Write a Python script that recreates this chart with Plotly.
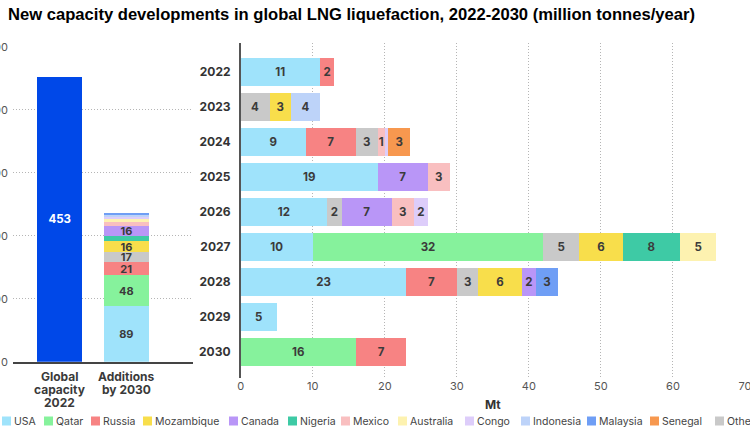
import plotly.graph_objects as go

W, H = 750, 444

# ---------------- data ----------------
years = ["2022", "2023", "2024", "2025", "2026", "2027", "2028", "2029", "2030"]
countries = ["USA", "Qatar", "Russia", "Others", "Mozambique", "Canada", "Nigeria",
             "Mexico", "Australia", "Congo", "Indonesia", "Malaysia", "Senegal"]
colors = {
    "USA": "#9fe3fb", "Qatar": "#86f29c", "Russia": "#f78383", "Mozambique": "#f8de4b",
    "Canada": "#b996f7", "Nigeria": "#3ecaa5", "Mexico": "#f9bfc0", "Australia": "#fdf2b0",
    "Congo": "#ddcdfa", "Indonesia": "#bdd3f9", "Malaysia": "#6f9ef5", "Senegal": "#f7984f",
    "Others": "#c9c9c9",
}
# per-year additions (Mt), years 2022..2030
usa        = [11, 0, 9, 19, 12, 10, 23, 5, 0]
qatar      = [0, 0, 0, 0, 0, 32, 0, 0, 16]
russia     = [2, 0, 7, 0, 0, 0, 7, 0, 7]
others     = [0, 4, 3, 0, 2, 5, 3, 0, 0]
mozambique = [0, 3, 0, 0, 0, 6, 6, 0, 0]
canada     = [0, 0, 0, 7, 7, 0, 2, 0, 0]
nigeria    = [0, 0, 0, 0, 0, 8, 0, 0, 0]
mexico     = [0, 0, 1, 3, 3, 0, 0, 0, 0]
australia  = [0, 0, 0, 0, 0, 5, 0, 0, 0]
congo      = [0, 0, 0.5, 0, 2, 0, 0, 0, 0]
indonesia  = [0, 4, 0, 0, 0, 0, 0, 0, 0]
malaysia   = [0, 0, 0, 0, 0, 0, 3, 0, 0]
senegal    = [0, 0, 3, 0, 0, 0, 0, 0, 0]
series = {
    "USA": usa, "Qatar": qatar, "Russia": russia, "Others": others,
    "Mozambique": mozambique, "Canada": canada, "Nigeria": nigeria, "Mexico": mexico,
    "Australia": australia, "Congo": congo, "Indonesia": indonesia,
    "Malaysia": malaysia, "Senegal": senegal,
}

# left panel
global_capacity_2022 = 453
left_categories = ["Global capacity 2022", "Additions by 2030"]
left_category_lines = [["Global", "capacity", "2022"], ["Additions", "by 2030"]]
additions_order = ["USA", "Qatar", "Russia", "Others", "Mozambique", "Nigeria", "Canada",
                   "Mexico", "Australia", "Congo", "Indonesia", "Malaysia"]
additions_values = [89, 48, 21, 17, 16, 8, 16, 7, 5, 3, 4, 3]
additions_labelled = [True, True, True, True, True, False, True, False, False, False, False, False]

legend_order = ["USA", "Qatar", "Russia", "Mozambique", "Canada", "Nigeria", "Mexico",
                "Australia", "Congo", "Indonesia", "Malaysia", "Senegal", "Others"]

# ---------------- layout helpers ----------------
def px_x(p):
    return p / W

def px_y(p):
    return 1 - p / H

BODY_FONT = "Inter, Roboto, Arial, sans-serif"
LABEL_COLOR = "#3b3b3b"

fig = go.Figure()

# Left: global capacity bar
fig.add_trace(go.Bar(
    x=[left_categories[0]], y=[global_capacity_2022], xaxis="x", yaxis="y",
    marker=dict(color="#0048e8", line=dict(width=0)), width=0.675,
    text=[str(global_capacity_2022)], textposition="inside", insidetextanchor="middle",
    textangle=0,
    textfont=dict(color="white", size=11.5, family=BODY_FONT, weight="bold"),
    showlegend=False, hoverinfo="skip",
))
# Left: additions stacked
for name, val, lab in zip(additions_order, additions_values, additions_labelled):
    fig.add_trace(go.Bar(
        x=[left_categories[1]], y=[val], xaxis="x", yaxis="y",
        marker=dict(color=colors[name], line=dict(width=0)), width=0.675,
        text=[str(val) if lab else ""], textposition="inside", insidetextanchor="middle",
        textangle=0,
        textfont=dict(color=LABEL_COLOR, size=11, family=BODY_FONT, weight="bold"),
        showlegend=False, hoverinfo="skip",
    ))

# Right: horizontal stacked bars by year
for name in countries:
    vals = series[name]
    fig.add_trace(go.Bar(
        y=years, x=vals, orientation="h", xaxis="x2", yaxis="y2",
        marker=dict(color=colors[name], line=dict(width=0)), width=0.8,
        text=[f"{v:g}" if v >= 1 else "" for v in vals],
        textposition="inside", insidetextanchor="middle", textangle=0,
        textfont=dict(color=LABEL_COLOR, size=11.5, family=BODY_FONT, weight="bold"),
        showlegend=False, hoverinfo="skip",
    ))

grid = dict(showgrid=True, gridcolor="#b5b5b5", griddash="1px,2px", gridwidth=1)

fig.update_layout(
    width=W, height=H, margin=dict(l=0, r=0, t=0, b=0, pad=0, autoexpand=False),
    paper_bgcolor="white", plot_bgcolor="white",
    barmode="stack", bargap=0.2,
    uniformtext=dict(minsize=11, mode="show"),
    font=dict(family=BODY_FONT, color="#444"),
    title=dict(
        text="<b>New capacity developments in global LNG liquefaction, 2022-2030 (million tonnes/year)</b>",
        x=px_x(8), xanchor="left", xref="container", y=px_y(14), yref="container", yanchor="middle",
        automargin=False,
        font=dict(family="Liberation Sans, Arial, sans-serif", size=16.6, color="#000"),
    ),
    xaxis=dict(
        domain=[px_x(13), px_x(193)], type="category", range=[-0.7, 2.0],
        categoryorder="array", categoryarray=left_categories,
        showline=True, linecolor="#444", linewidth=1.5, showgrid=False,
        showticklabels=False, ticks="", automargin=False,
    ),
    yaxis=dict(
        domain=[px_y(361.7), px_y(47)], range=[0, 500], tickvals=[0, 100, 200, 300, 400, 500],
        zeroline=False, showline=False, ticks="", automargin=False,
        ticklabelstandoff=4, ticklabeloverflow="allow",
        tickfont=dict(size=11, color="#555", family=BODY_FONT), **grid,
    ),
    xaxis2=dict(
        domain=[px_x(240.7), px_x(745)], anchor="y2", range=[0, 70],
        tickvals=[0, 10, 20, 30, 40, 50, 60, 70], zeroline=False, showline=False, ticks="",
        automargin=False, ticklabeloverflow="allow",
        tickfont=dict(size=11, color="#555", family=BODY_FONT),
        title=dict(text="<b>Mt</b>", font=dict(size=12, color="#333", family=BODY_FONT), standoff=8),
        **grid,
    ),
    yaxis2=dict(
        domain=[px_y(378), px_y(43)], anchor="x2", type="category",
        categoryorder="array", categoryarray=years, range=[8.74, -0.83],
        showline=True, linecolor="#555", linewidth=1.5, showgrid=False, ticks="",
        ticklabelstandoff=6, automargin=False,
        tickfont=dict(size=12, color="#333", family=BODY_FONT, weight="bold"),
    ),
)

# Left category labels (tight line spacing as in the reference)
for cat, lines in zip(left_categories, left_category_lines):
    for i, line in enumerate(lines):
        fig.add_annotation(text=f"<b>{line}</b>", xref="x", yref="paper", x=cat,
                           y=px_y(376 + 13 * i), xanchor="center", yanchor="middle",
                           showarrow=False,
                           font=dict(size=12, color="#3a3a3a", family=BODY_FONT))

# Custom compact legend (squares + labels)
legend_square_px = [2, 44, 91, 143, 229, 288, 341, 398, 465, 521, 587, 650, 715]
legend_y_center = 421
for name, sx in zip(legend_order, legend_square_px):
    fig.add_shape(type="rect", xref="paper", yref="paper",
                  x0=px_x(sx), x1=px_x(sx + 9), y0=px_y(legend_y_center + 4.5), y1=px_y(legend_y_center - 4.5),
                  fillcolor=colors[name], line=dict(width=0))
    fig.add_annotation(text=name, xref="paper", yref="paper", x=px_x(sx + 10), y=px_y(legend_y_center),
                       xanchor="left", yanchor="middle", showarrow=False,
                       font=dict(size=10.5, color="#444", family=BODY_FONT))

fig.write_html(
    "out.html",
    config={"displayModeBar": False},
    post_script="document.body.style.margin='0';document.body.style.overflow='hidden';",
)
